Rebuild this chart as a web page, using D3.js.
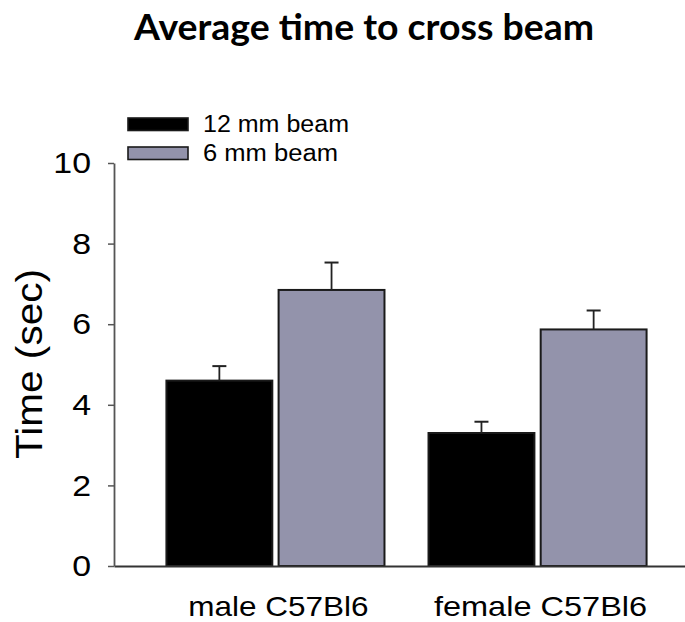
<!DOCTYPE html>
<html>
<head>
<meta charset="utf-8">
<script src="https://cdn.jsdelivr.net/npm/d3@7"></script>
<style>
  html, body { margin: 0; padding: 0; background: #fff; }
  svg { display: block; }
</style>
</head>
<body>
<script>
// ---- Data ----
const categories = ["male C57Bl6", "female C57Bl6"];
const seriesNames = ["12 mm beam", "6 mm beam"];
const values12mm = [4.6, 3.3];
const errors12mm = [0.36, 0.28];
const values6mm = [6.85, 5.87];
const errors6mm = [0.68, 0.47];
const yTicks = [0, 2, 4, 6, 8, 10];
const seriesColors = ["#000000", "#9393ab"];

const W = 685, H = 622;
const svg = d3.select("body").append("svg").attr("width", W).attr("height", H);

const series = [
  { name: seriesNames[0], values: values12mm, errors: errors12mm, color: seriesColors[0] },
  { name: seriesNames[1], values: values6mm, errors: errors6mm, color: seriesColors[1] }
];

const x0 = d3.scaleBand().domain(categories).range([114, 699]).paddingInner(0.168).paddingOuter(0.2);
const x1 = d3.scaleBand().domain(seriesNames).range([0, x0.bandwidth()]).paddingInner(0.056).paddingOuter(0);
const y = d3.scaleLinear().domain([0, 10]).range([566, 163]);

// Title
svg.append("text")
  .attr("x", 364).attr("y", 40)
  .attr("text-anchor", "middle")
  .attr("font-family", "Lato, 'Open Sans', sans-serif")
  .attr("font-weight", "bold")
  .attr("font-size", 37)
  .attr("textLength", 460)
  .attr("lengthAdjust", "spacingAndGlyphs")
  .attr("fill", "#000")
  .text("Average time to cross beam");

// Bars
const gBars = svg.append("g");
series.forEach((s) => {
  const g = gBars.append("g");
  g.selectAll("rect")
    .data(categories.map((c, i) => ({ c, v: s.values[i], e: s.errors[i] })))
    .join("rect")
    .attr("x", d => x0(d.c) + x1(s.name))
    .attr("y", d => y(d.v))
    .attr("width", x1.bandwidth())
    .attr("height", d => y(0) - y(d.v))
    .attr("fill", s.color)
    .attr("stroke", "#1a1a1a")
    .attr("stroke-width", 2);
  // error bars (upper only)
  const eg = g.selectAll("g.err")
    .data(categories.map((c, i) => ({ c, v: s.values[i], e: s.errors[i] })))
    .join("g").attr("class", "err");
  eg.append("line")
    .attr("x1", d => x0(d.c) + x1(s.name) + x1.bandwidth() / 2)
    .attr("x2", d => x0(d.c) + x1(s.name) + x1.bandwidth() / 2)
    .attr("y1", d => y(d.v))
    .attr("y2", d => y(d.v + d.e))
    .attr("stroke", "#222").attr("stroke-width", 1.8);
  eg.append("line")
    .attr("x1", d => x0(d.c) + x1(s.name) + x1.bandwidth() / 2 - 7)
    .attr("x2", d => x0(d.c) + x1(s.name) + x1.bandwidth() / 2 + 7)
    .attr("y1", d => y(d.v + d.e))
    .attr("y2", d => y(d.v + d.e))
    .attr("stroke", "#222").attr("stroke-width", 2);
});

// X axis line
const xAxis = d3.axisBottom(x0).tickSize(0).tickFormat("");
const gx = svg.append("g").attr("transform", `translate(0,${y(0)})`).call(xAxis);
gx.select(".domain").attr("stroke", "#333").attr("stroke-width", 1.8);

// X labels
svg.append("g").selectAll("text")
  .data(categories)
  .join("text")
  .attr("x", d => x0(d) + x0.bandwidth() / 2 + 3)
  .attr("y", 616)
  .attr("text-anchor", "middle")
  .attr("font-family", "'Liberation Sans', Arial, sans-serif")
  .attr("font-size", 28)
  .attr("textLength", d => d.length * 16.4)
  .attr("lengthAdjust", "spacingAndGlyphs")
  .attr("fill", "#000")
  .text(d => d);

// Y axis
const yAxis = d3.axisLeft(y).tickValues(yTicks).tickSize(6).tickSizeOuter(0).tickPadding(17);
const gy = svg.append("g").attr("transform", "translate(114,0)").call(yAxis);
gy.select(".domain").attr("stroke", "#555").attr("stroke-width", 1.8);
gy.selectAll(".tick line").attr("stroke", "#555").attr("stroke-width", 1.5);
const sx = 1.13;
gy.selectAll(".tick text")
  .attr("font-family", "'Liberation Sans', Arial, sans-serif")
  .attr("font-size", 30)
  .attr("fill", "#000")
  .attr("x", -23 / sx)
  .attr("transform", `scale(${sx},1)`);

// Y label
svg.append("text")
  .attr("transform", "translate(42,364) rotate(-90)")
  .attr("text-anchor", "middle")
  .attr("font-family", "'Liberation Sans', Arial, sans-serif")
  .attr("font-size", 37)
  .attr("textLength", 190)
  .attr("lengthAdjust", "spacingAndGlyphs")
  .attr("fill", "#000")
  .text("Time (sec)");

// Legend
const legend = svg.append("g");
const legY = [118, 147];
const legTextY = [131.5, 160.5];
const legLen = [146, 135];
series.forEach((s, i) => {
  legend.append("rect")
    .attr("x", 128).attr("y", legY[i])
    .attr("width", 60).attr("height", 12.5)
    .attr("fill", s.color)
    .attr("stroke", "#1a1a1a").attr("stroke-width", 1.6);
  legend.append("text")
    .attr("x", 203).attr("y", legTextY[i])
    .attr("font-family", "'Liberation Sans', Arial, sans-serif")
    .attr("font-size", 23)
    .attr("textLength", legLen[i])
    .attr("lengthAdjust", "spacingAndGlyphs")
    .attr("fill", "#000")
    .text(s.name);
});
</script>
</body>
</html>
